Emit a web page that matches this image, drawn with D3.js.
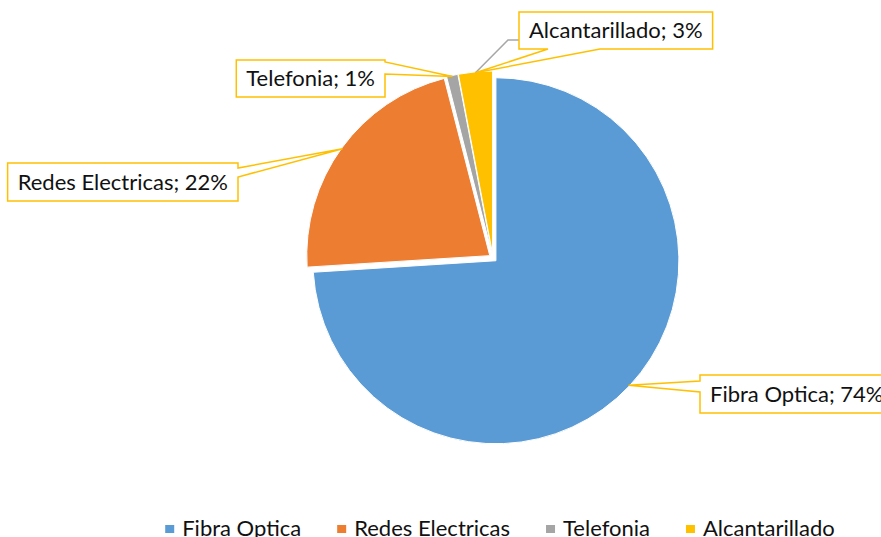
<!DOCTYPE html>
<html>
<head>
<meta charset="utf-8">
<script src="https://cdn.jsdelivr.net/npm/d3@7"></script>
<style>
  body { margin: 0; background: #fff; }
  text { font-family: Lato, "Open Sans", sans-serif; fill: #111; }
</style>
</head>
<body>
<div id="chart"></div>
<script>
const categories = ['Fibra Optica', 'Redes Electricas', 'Telefonia', 'Alcantarillado'];
const shares = [74, 22, 1, 3];
const colors = ['#5B9BD5', '#ED7D31', '#A5A5A5', '#FFC000'];

const w = 881;
const h = 537;

const svg = d3.select('#chart')
  .append('svg')
  .attr('width', w)
  .attr('height', h);

const cx = 493, cy = 258, r = 183, explode = 4;
const fontSize = 22;

const pie = d3.pie().sort(null).value(d => d.value);
const arcs = pie(categories.map((c, i) => ({ name: c, value: shares[i], color: colors[i] })));
const arc = d3.arc().innerRadius(0).outerRadius(r);

function midAngle(d) { return (d.startAngle + d.endAngle) / 2; }

function offset(d) {
  const a = midAngle(d);
  return [Math.sin(a) * explode, -Math.cos(a) * explode];
}

// point on the slice edge, in page coords
function tipOf(d) {
  const a = midAngle(d);
  const o = offset(d);
  return [cx + o[0] + Math.sin(a) * (r - 1), cy + o[1] - Math.cos(a) * (r - 1)];
}

const pieG = svg.append('g').attr('transform', `translate(${cx},${cy})`);
pieG.selectAll('path')
  .data(arcs)
  .join('path')
  .attr('d', arc)
  .attr('fill', d => d.data.color)
  .attr('stroke', '#fff')
  .attr('stroke-width', 1)
  .attr('transform', d => `translate(${offset(d)})`);

// callout placement (layout only)
const calloutLayout = {
  'Fibra Optica': { left: 700, y: 375, h: 38, side: 'left', base: [6, 17] },
  'Redes Electricas': { right: 238, y: 163, h: 38, side: 'right', base: [5, 14] },
  'Telefonia': { right: 385, y: 60, h: 37, side: 'right', base: [2, 14] },
  'Alcantarillado': { left: 519, y: 12, h: 37, side: 'bottom', base: [29, 81] },
};

// gray leader lines for the small slices
const leaderG = svg.append('g');
const calloutG = svg.append('g');

arcs.forEach(d => {
  const L = calloutLayout[d.data.name];
  const tip = tipOf(d);
  const label = `${d.data.name}; ${d.data.value}%`;

  const t = calloutG.append('text')
    .attr('font-size', fontSize)
    .attr('text-anchor', 'middle')
    .text(label);
  const tw = t.node().getComputedTextLength();
  const bw = tw + 20;
  const x = L.left != null ? L.left : L.right - bw;
  const y = L.y;
  const bh = L.h;

  let p;
  if (L.side === 'right') {
    p = `M${x},${y}H${x + bw}V${y + L.base[0]}L${tip[0]},${tip[1]}L${x + bw},${y + L.base[1]}V${y + bh}H${x}Z`;
  } else if (L.side === 'left') {
    p = `M${x},${y}H${x + bw}V${y + bh}H${x}V${y + L.base[1]}L${tip[0]},${tip[1]}L${x},${y + L.base[0]}Z`;
  } else {
    p = `M${x},${y}H${x + bw}V${y + bh}H${x + L.base[1]}L${tip[0]},${tip[1]}L${x + L.base[0]},${y + bh}H${x}Z`;
  }

  calloutG.insert('path', 'text')
    .attr('d', p)
    .attr('fill', '#fff')
    .attr('stroke', '#FFC000')
    .attr('stroke-width', 1.5)
    .attr('stroke-linejoin', 'miter');

  t.attr('x', x + bw / 2).attr('y', y + bh / 2 + 7.5);

  if (d.data.name === 'Telefonia') {
    leaderG.append('path')
      .attr('d', `M${x + bw},${y + 7}L${tip[0]},${tip[1]}`)
      .attr('fill', 'none').attr('stroke', '#A6A6A6').attr('stroke-width', 1.5);
  }
  if (d.data.name === 'Alcantarillado') {
    leaderG.append('path')
      .attr('d', `M${x},${y + 28}H${x - 11}L${tip[0]},${tip[1]}`)
      .attr('fill', 'none').attr('stroke', '#A6A6A6').attr('stroke-width', 1.5);
  }
});

// legend
const legendG = svg.append('g');
let lx = 0;
categories.forEach((c, i) => {
  const g = legendG.append('g').attr('transform', `translate(${lx},0)`);
  g.append('rect').attr('x', 0).attr('y', 525).attr('width', 9).attr('height', 8).attr('fill', colors[i]);
  const t = g.append('text').attr('x', 17).attr('y', 536).attr('font-size', fontSize).text(c);
  lx += 17 + t.node().getComputedTextLength() + 36;
});
lx -= 36;
legendG.attr('transform', `translate(${500 - lx / 2},0)`);
</script>
</body>
</html>
